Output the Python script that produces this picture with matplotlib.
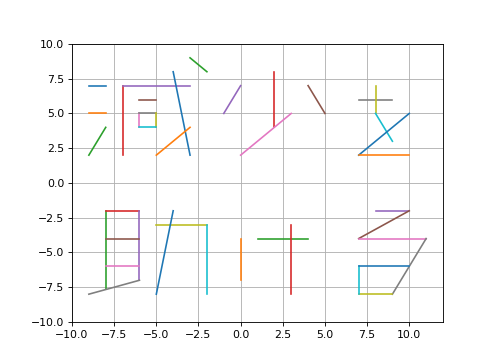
import matplotlib
matplotlib.use("Agg")
import numpy as np
import matplotlib.pyplot as plt

# Cada trazo: (x0, y0) -> (x1, y1)
x_inicio = [-9, -9, -9, -7, -7, -6, -6, -6, -5, -6, -4, -5, -3,
            2, -1, 4, 0, 7, 8, 8, 7, 7,
            -8, -8, -6, -8, -8, -9, -5, -2, -5,
            0, 1, 3, 8, 7, 7, 11, 7, 7, 7]
y_inicio = [7, 5, 2, 7, 7, 6, 5, 5, 5, 4, 8, 2, 9,
            8, 5, 7, 2, 6, 7, 5, 2, 2,
            -2, -2, -2, -4, -6, -8, -3, -3, -8,
            -4, -4, -3, -2, -4, -4, -4, -8, -6, -6]
x_final = [-8, -8, -8, -7, -3, -5, -6, -5, -5, -5, -3, -3, -2,
           2, 0, 5, 3, 9, 8, 9, 10, 10,
           -8, -6, -6, -6, -6, -6, -2, -2, -4,
           0, 4, 3, 10, 10, 11, 9, 9, 7, 10]
y_final = [7, 5, 4, 2, 7, 6, 4, 5, 4, 4, 2, 4, 8,
           4, 7, 5, 5, 6, 5, 3, 5, 2,
           -7.6, -2, -7, -4, -6, -7, -3, -8, -2,
           -7, -4, -8, -2, -2, -4, -8, -8, -8, -6]

# figura por defecto reducida a 500 px de ancho
fig = plt.figure(figsize=(6.4, 4.6464), dpi=78.125)
plt.subplots_adjust(left=0.144, right=0.886, top=0.879, bottom=0.113)

for xa, ya, xb, yb in zip(x_inicio, y_inicio, x_final, y_final):
    plt.plot([xa, xb], [ya, yb])

plt.xlim(-10, 12)
plt.ylim(-10, 10)
plt.xticks(np.arange(-10, 10.1, 2.5))
plt.yticks(np.arange(-10, 10.1, 2.5))
plt.grid(True)
plt.savefig("out.png")
